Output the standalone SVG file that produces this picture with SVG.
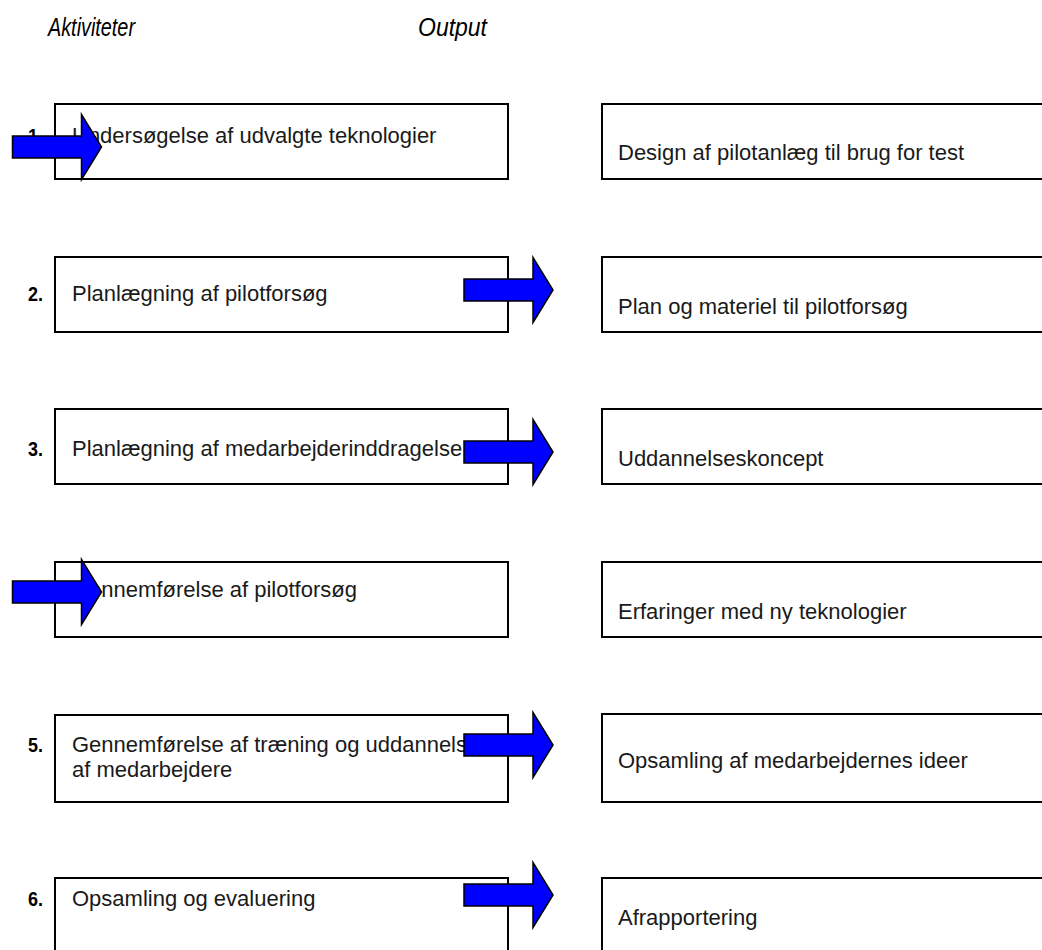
<svg xmlns="http://www.w3.org/2000/svg" xmlns:xlink="http://www.w3.org/1999/xlink" width="1042" height="950" viewBox="0 0 1042 950">
  <style>
    .box { fill: #ffffff; stroke: #000000; stroke-width: 2; }
    .txt { font-family: "Liberation Sans", Arial, sans-serif; font-size: 22px; fill: #1a1a1a; }
    .num { font-family: "Liberation Sans Narrow", "Liberation Sans", Arial, sans-serif; font-size: 20px; font-weight: bold; fill: #000000; }
    .head { font-family: "Liberation Sans", Arial, sans-serif; font-size: 25px; font-style: italic; fill: #000000; }
    .arrow { fill: #0000ff; stroke: #000000; stroke-width: 1.5; stroke-linejoin: miter; }
  </style>
  <defs>
    <!-- block arrow, origin at the left end of the shaft, centred vertically -->
    <path id="blockArrow" class="arrow" d="M0,-11 H69 V-32.5 L89,0 L69,32.5 V11 H0 Z"/>
  </defs>

  <rect width="1042" height="950" fill="#ffffff"/>

  <!-- column headings -->
  <g id="headings">
    <text class="head" x="48" y="36" textLength="87" lengthAdjust="spacingAndGlyphs">Aktiviteter</text>
    <text class="head" x="418" y="36" textLength="69" lengthAdjust="spacingAndGlyphs">Output</text>
  </g>

  <!-- activities -->
  <g id="activity1">
    <rect class="box" x="55" y="104" width="453" height="75"/>
    <text class="num" x="28" y="143" textLength="15" lengthAdjust="spacingAndGlyphs">1.</text>
    <text class="txt" x="72" y="143">Undersøgelse af udvalgte teknologier</text>
  </g>
  <g id="activity2">
    <rect class="box" x="55" y="257" width="453" height="75"/>
    <text class="num" x="28" y="301" textLength="15" lengthAdjust="spacingAndGlyphs">2.</text>
    <text class="txt" x="72" y="301">Planlægning af pilotforsøg</text>
  </g>
  <g id="activity3">
    <rect class="box" x="55" y="409" width="453" height="75"/>
    <text class="num" x="28" y="456" textLength="15" lengthAdjust="spacingAndGlyphs">3.</text>
    <text class="txt" x="72" y="456">Planlægning af medarbejderinddragelse</text>
  </g>
  <g id="activity4">
    <rect class="box" x="55" y="562" width="453" height="75"/>
    <text class="txt" x="72" y="597">Gennemførelse af pilotforsøg</text>
  </g>
  <g id="activity5">
    <rect class="box" x="55" y="715" width="453" height="87"/>
    <text class="num" x="28" y="752" textLength="15" lengthAdjust="spacingAndGlyphs">5.</text>
    <text class="txt" x="72" y="752">Gennemførelse af træning og uddannelse</text>
    <text class="txt" x="72" y="777">af medarbejdere</text>
  </g>
  <g id="activity6">
    <rect class="box" x="55" y="878" width="453" height="90"/>
    <text class="num" x="28" y="906" textLength="15" lengthAdjust="spacingAndGlyphs">6.</text>
    <text class="txt" x="72" y="906">Opsamling og evaluering</text>
  </g>

  <!-- outputs -->
  <g id="output1">
    <rect class="box" x="602" y="104" width="460" height="75"/>
    <text class="txt" x="618" y="160">Design af pilotanlæg til brug for test</text>
  </g>
  <g id="output2">
    <rect class="box" x="602" y="257" width="460" height="75"/>
    <text class="txt" x="618" y="314">Plan og materiel til pilotforsøg</text>
  </g>
  <g id="output3">
    <rect class="box" x="602" y="409" width="460" height="75"/>
    <text class="txt" x="618" y="466">Uddannelseskoncept</text>
  </g>
  <g id="output4">
    <rect class="box" x="602" y="562" width="460" height="75"/>
    <text class="txt" x="618" y="619">Erfaringer med ny teknologier</text>
  </g>
  <g id="output5">
    <rect class="box" x="602" y="714" width="460" height="88"/>
    <text class="txt" x="618" y="768">Opsamling af medarbejdernes ideer</text>
  </g>
  <g id="output6">
    <rect class="box" x="602" y="878" width="460" height="90"/>
    <text class="txt" x="618" y="925">Afrapportering</text>
  </g>

  <!-- block arrows -->
  <g id="connectors">
    <use xlink:href="#blockArrow" href="#blockArrow" x="12.5" y="147"/>
    <use xlink:href="#blockArrow" href="#blockArrow" x="464" y="290"/>
    <use xlink:href="#blockArrow" href="#blockArrow" x="464" y="452"/>
    <use xlink:href="#blockArrow" href="#blockArrow" x="12.5" y="592"/>
    <use xlink:href="#blockArrow" href="#blockArrow" x="464" y="745"/>
    <use xlink:href="#blockArrow" href="#blockArrow" x="464" y="895"/>
  </g>
</svg>
